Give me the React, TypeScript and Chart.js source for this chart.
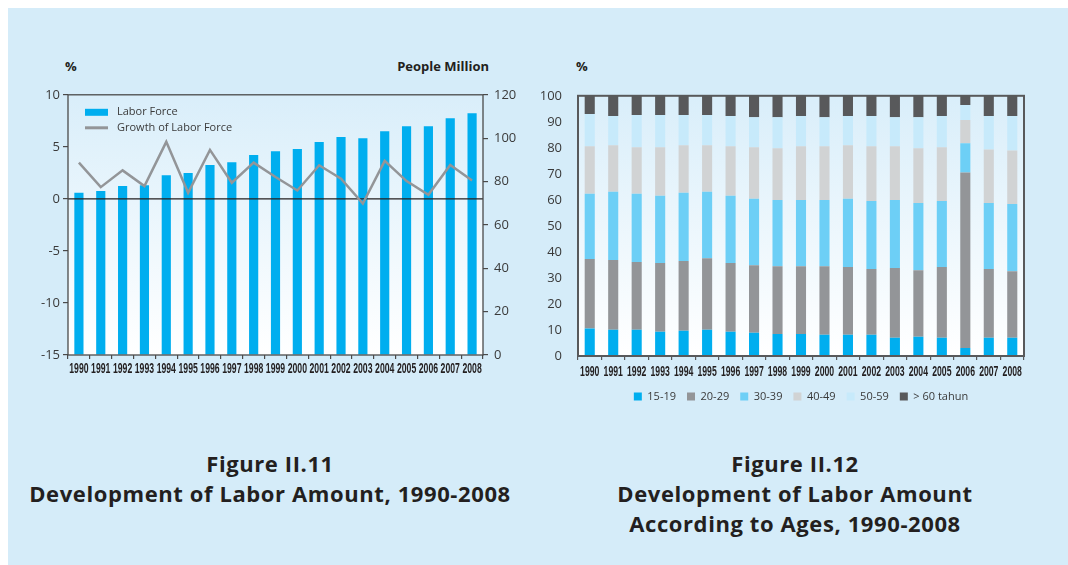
import React, { useEffect, useRef } from "react";
import { Chart, registerables } from "chart.js";

Chart.register(...registerables);

// ---- Data ----
const years = [
  "1990", "1991", "1992", "1993", "1994", "1995", "1996", "1997", "1998", "1999",
  "2000", "2001", "2002", "2003", "2004", "2005", "2006", "2007", "2008",
];

// Labor force, people million (right axis)
const laborForce = [
  74.8, 75.6, 77.9, 78.3, 82.9, 83.9, 87.6, 88.9, 92.2, 94.0,
  95.0, 98.2, 100.5, 100.0, 103.2, 105.5, 105.5, 109.2, 111.5,
];

// Growth of labor force, % (left axis)
const laborGrowth = [
  3.48, 1.13, 2.74, 1.23, 5.48, 0.58, 4.71, 1.55, 3.48, 2.1,
  0.81, 3.23, 1.94, -0.45, 3.65, 1.71, 0.39, 3.26, 1.77,
];

// Share of labor by age group, %
const age15to19 = [10.6, 10.1, 10.1, 9.3, 9.7, 10.1, 9.3, 8.9, 8.5, 8.5, 8.2, 8.2, 8.2, 7.0, 7.4, 7.0, 3.1, 7.0, 7.0];
const age20to29 = [26.7, 26.8, 26.0, 26.4, 26.8, 27.5, 26.4, 26.0, 26.0, 26.0, 26.3, 26.0, 25.2, 26.8, 25.6, 27.2, 67.4, 26.4, 25.6];
const age30to39 = [25.1, 26.2, 26.3, 25.9, 26.2, 25.5, 25.9, 25.5, 25.5, 25.5, 25.5, 26.2, 26.2, 26.2, 25.8, 25.4, 11.3, 25.4, 25.8];
const age40to49 = [18.2, 17.9, 17.8, 18.6, 18.3, 17.9, 19.0, 19.8, 19.8, 20.6, 20.6, 20.6, 21.0, 20.6, 21.0, 20.6, 8.9, 20.6, 20.6];
const age50to59 = [12.4, 11.2, 12.4, 12.4, 11.6, 11.6, 11.6, 11.6, 12.0, 11.6, 11.2, 11.2, 11.6, 11.2, 12.0, 12.0, 5.8, 12.8, 13.2];
const age60plus = [7.0, 7.8, 7.4, 7.4, 7.4, 7.4, 7.8, 8.2, 8.2, 7.8, 8.2, 7.8, 7.8, 8.2, 8.2, 7.8, 3.5, 7.8, 7.8];

const ageLabels = ["15-19", "20-29", "30-39", "40-49", "50-59", "> 60 tahun"];
const ageColors = ["#00aeef", "#939598", "#6dcff6", "#d1d3d4", "#c7eafb", "#58595b"];

// ---- Styling ----
const TEXT = "#3a3a3a";
const TICK_FONT = { family: "'Open Sans', sans-serif", size: 13 };

// Soft blue-to-white fill behind the plotting area
const plotGradient = {
  id: "plotGradient",
  beforeDraw(chart: any) {
    const { ctx, chartArea } = chart;
    const { left, top, right, bottom } = chartArea;
    const g = ctx.createLinearGradient(0, top, 0, bottom);
    g.addColorStop(0, "#d9eefa");
    g.addColorStop(1, "#ffffff");
    ctx.save();
    ctx.fillStyle = g;
    ctx.fillRect(left, top, right - left, bottom - top);
    ctx.restore();
  },
};

// Frame around the plotting area
const plotFrame = {
  id: "plotFrame",
  afterDraw(chart: any, _args: any, opts: any) {
    const { ctx, chartArea } = chart;
    ctx.save();
    ctx.strokeStyle = opts.color || "#4a4a4a";
    ctx.lineWidth = opts.width || 1.3;
    ctx.strokeRect(
      chartArea.left,
      chartArea.top,
      chartArea.right - chartArea.left,
      chartArea.bottom - chartArea.top
    );
    ctx.restore();
  },
};

// Narrow bold year labels under the category axis
const yearLabels = {
  id: "yearLabels",
  afterDraw(chart: any, _args: any, opts: any) {
    const xs = chart.scales.x;
    const { ctx } = chart;
    ctx.save();
    ctx.fillStyle = "#231f20";
    ctx.font = "bold 14px 'Liberation Sans', Arial, sans-serif";
    ctx.textAlign = "center";
    ctx.textBaseline = "middle";
    const y = xs.top + (opts.offset || 14);
    chart.data.labels.forEach((lab: string, i: number) => {
      const x = xs.getPixelForValue(i);
      ctx.save();
      ctx.translate(x, y);
      ctx.scale(0.62, 1);
      ctx.fillText(lab, 0, 0);
      ctx.restore();
    });
    ctx.restore();
  },
};

// Zero line drawn over the bars, under the growth line
const zeroLine = {
  id: "zeroLine",
  afterDatasetDraw(chart: any, args: any) {
    if (args.index !== 1) return;
    const { ctx, chartArea } = chart;
    const y = chart.scales.y.getPixelForValue(0);
    ctx.save();
    ctx.strokeStyle = "#231f20";
    ctx.lineWidth = 1.2;
    ctx.beginPath();
    ctx.moveTo(chartArea.left, y);
    ctx.lineTo(chartArea.right, y);
    ctx.stroke();
    ctx.restore();
  },
};

// Legend placed inside the top-left of the plotting area
const innerLegend = {
  id: "innerLegend",
  afterDraw(chart: any) {
    const { ctx, chartArea } = chart;
    const x0 = chartArea.left + 17;
    const y0 = chartArea.top + 17;
    const ds = chart.data.datasets;
    ctx.save();
    ctx.font = "11px 'Open Sans', sans-serif";
    ctx.textBaseline = "middle";
    // bar entry
    ctx.fillStyle = ds[1].backgroundColor;
    ctx.fillRect(x0, y0 - 3, 23, 7);
    ctx.fillStyle = TEXT;
    ctx.fillText(ds[1].label, x0 + 32, y0);
    // line entry
    const y1 = y0 + 16;
    ctx.strokeStyle = ds[0].borderColor;
    ctx.lineWidth = 3;
    ctx.beginPath();
    ctx.moveTo(x0, y1);
    ctx.lineTo(x0 + 23, y1);
    ctx.stroke();
    ctx.fillText(ds[0].label, x0 + 32, y1);
    ctx.restore();
  },
};

function ChartCanvas({ config, left, top, width, height }: any) {
  const ref = useRef<HTMLCanvasElement | null>(null);
  useEffect(() => {
    const chart = new Chart(ref.current as HTMLCanvasElement, config);
    return () => chart.destroy();
  }, []);
  return (
    <canvas
      ref={ref}
      width={width}
      height={height}
      style={{ position: "absolute", left, top, width, height }}
    />
  );
}

const laborConfig: any = {
  data: {
    labels: years,
    datasets: [
      {
        type: "line",
        label: "Growth of Labor Force",
        data: laborGrowth,
        yAxisID: "y",
        borderColor: "#939598",
        borderWidth: 2.5,
        pointRadius: 0,
        tension: 0,
      },
      {
        type: "bar",
        label: "Labor Force",
        data: laborForce,
        yAxisID: "y1",
        backgroundColor: "#00aeef",
        borderWidth: 0,
        barPercentage: 0.42,
        categoryPercentage: 1,
      },
    ],
  },
  options: {
    responsive: false,
    animation: false,
    devicePixelRatio: 1,
    layout: { padding: { top: 6, left: 0, right: 0, bottom: 0 } },
    plugins: {
      legend: { display: false },
      tooltip: { enabled: false },
      yearLabels: { offset: 14 },
      plotFrame: { color: "#4a4a4a", width: 1.3 },
    },
    scales: {
      x: {
        offset: true,
        border: { display: false },
        grid: { offset: true, drawOnChartArea: false, tickLength: 4, tickColor: "#4a4a4a", lineWidth: 1.2 },
        ticks: { display: false },
        afterFit: (s: any) => { s.height = 30; },
      },
      y: {
        position: "left",
        min: -15,
        max: 10,
        border: { display: false },
        grid: { drawOnChartArea: false, tickLength: 5, tickColor: "#4a4a4a", lineWidth: 1.2 },
        ticks: { stepSize: 5, color: TEXT, font: TICK_FONT, padding: 3 },
        afterFit: (s: any) => { s.width = 48; },
      },
      y1: {
        position: "right",
        min: 0,
        max: 120,
        border: { display: false },
        grid: { drawOnChartArea: false, tickLength: 5, tickColor: "#4a4a4a", lineWidth: 1.2 },
        ticks: { stepSize: 20, color: TEXT, font: TICK_FONT, padding: 6 },
        afterFit: (s: any) => { s.width = 37; },
      },
    },
  },
  plugins: [plotGradient, zeroLine, plotFrame, yearLabels, innerLegend],
};

const ageSeries = [age15to19, age20to29, age30to39, age40to49, age50to59, age60plus];

const ageConfig: any = {
  type: "bar",
  data: {
    labels: years,
    datasets: ageSeries.map((d, i) => ({
      label: ageLabels[i],
      data: d,
      backgroundColor: ageColors[i],
      borderWidth: 0,
      barPercentage: 0.43,
      categoryPercentage: 1,
    })),
  },
  options: {
    responsive: false,
    animation: false,
    devicePixelRatio: 1,
    layout: { padding: { top: 6, left: 0, right: 21, bottom: 0 } },
    plugins: {
      tooltip: { enabled: false },
      yearLabels: { offset: 16 },
      plotFrame: { color: "#58595b", width: 2 },
      legend: {
        position: "bottom",
        fullSize: false,
        labels: {
          boxWidth: 8,
          boxHeight: 8,
          padding: 11,
          color: TEXT,
          font: { family: "'Open Sans', sans-serif", size: 11 },
        },
      },
    },
    scales: {
      x: {
        stacked: true,
        offset: true,
        border: { display: false },
        grid: { offset: true, drawOnChartArea: false, tickLength: 4, tickColor: "#58595b", lineWidth: 1.2 },
        ticks: { display: false },
        afterFit: (s: any) => { s.height = 24; },
      },
      y: {
        stacked: true,
        min: 0,
        max: 100,
        border: { display: false },
        grid: { display: false },
        ticks: { stepSize: 10, color: TEXT, font: TICK_FONT, padding: 8 },
        afterFit: (s: any) => { s.width = 43; },
      },
    },
  },
  plugins: [plotGradient, plotFrame, yearLabels],
};

const titleStyle: React.CSSProperties = {
  position: "absolute",
  textAlign: "center",
  fontFamily: "'Open Sans', sans-serif",
  fontWeight: 700,
  fontSize: 22,
  letterSpacing: 0.6,
  lineHeight: "30px",
  color: "#231f20",
  whiteSpace: "nowrap",
};

const unitStyle: React.CSSProperties = {
  position: "absolute",
  fontFamily: "'Open Sans', sans-serif",
  fontWeight: 700,
  fontSize: 13,
  lineHeight: "16px",
  color: "#231f20",
  whiteSpace: "nowrap",
};

export default function App() {
  return (
    <div style={{ position: "fixed", left: 0, top: 0, width: 1068, height: 565, background: "#ffffff", overflow: "hidden" }}>
      <div style={{ position: "absolute", left: 8, top: 8, width: 1060, height: 557, background: "#d5ecf9" }} />

      <div style={{ ...unitStyle, left: 65, top: 58 }}>%</div>
      <div style={{ ...unitStyle, right: 1068 - 489, top: 58 }}>People Million</div>
      <ChartCanvas config={laborConfig} left={20} top={81} width={500} height={304} />

      <div style={{ ...unitStyle, left: 576, top: 58 }}>%</div>
      <ChartCanvas config={ageConfig} left={535} top={80} width={510} height={332} />

      <div style={{ ...titleStyle, left: 70, width: 400, top: 448 }}>Figure II.11</div>
      <div style={{ ...titleStyle, left: 20, width: 500, top: 478 }}>Development of Labor Amount, 1990-2008</div>

      <div style={{ ...titleStyle, left: 595, width: 400, top: 448 }}>Figure II.12</div>
      <div style={{ ...titleStyle, left: 595, width: 400, top: 478 }}>Development of Labor Amount</div>
      <div style={{ ...titleStyle, left: 595, width: 400, top: 508 }}>According to Ages, 1990-2008</div>
    </div>
  );
}
